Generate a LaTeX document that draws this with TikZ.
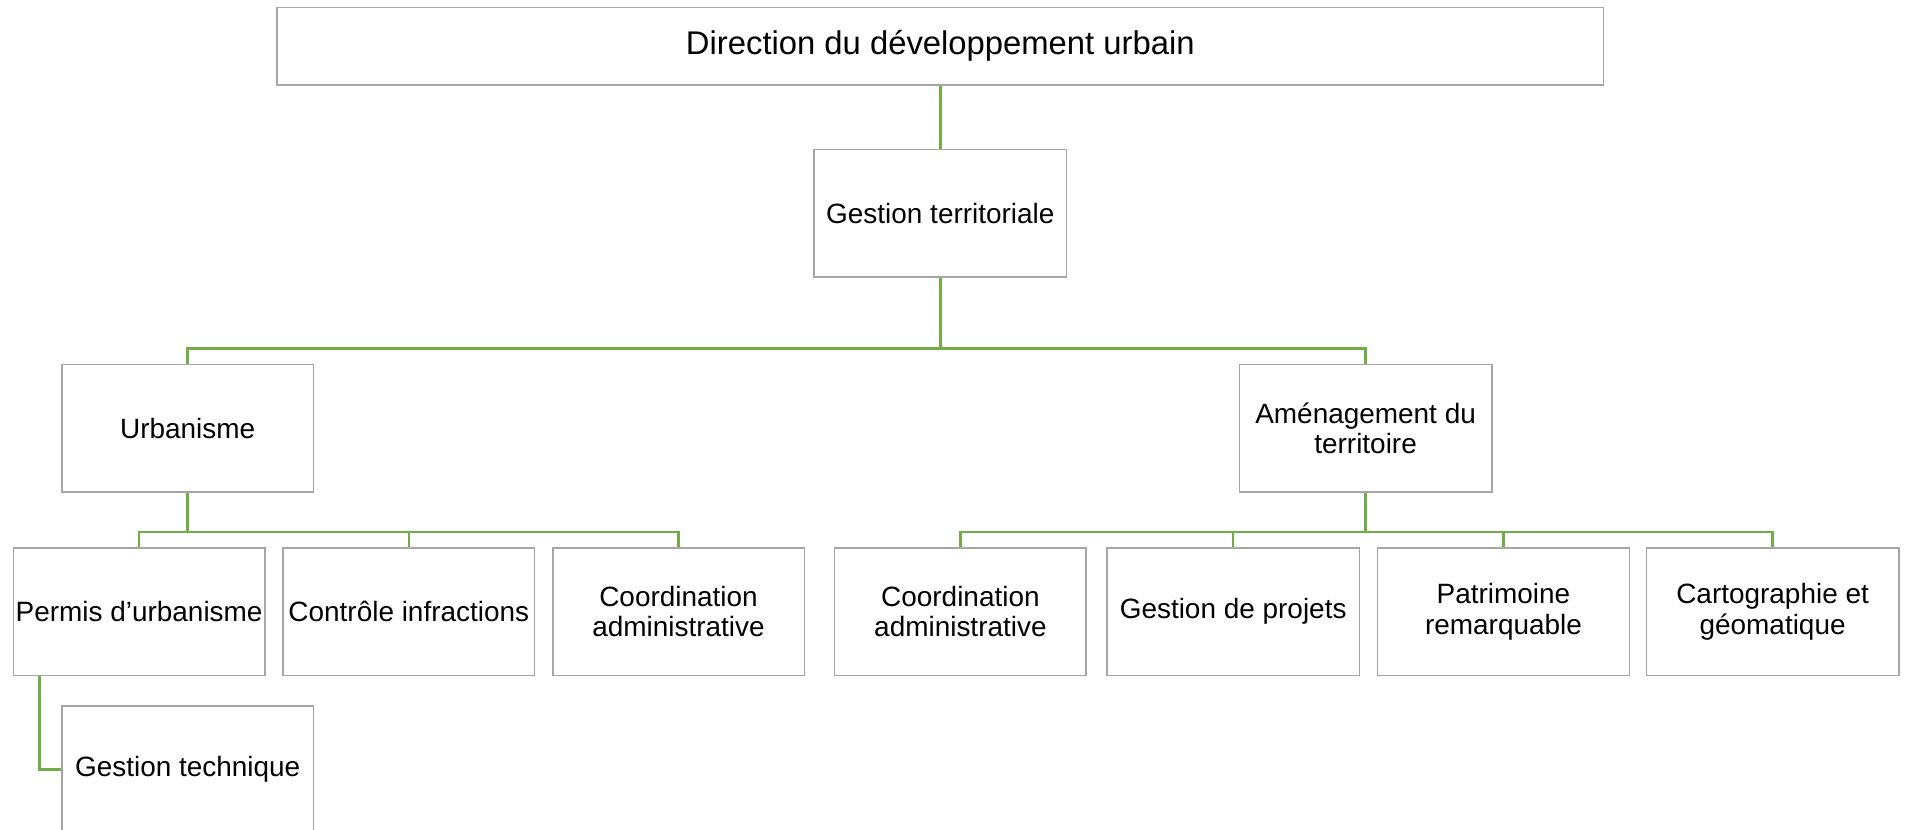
\documentclass[tikz,border=0pt]{standalone}
\usepackage{fontspec}
\setmainfont{Liberation Sans}
\usetikzlibrary{calc}
\definecolor{boxgray}{RGB}{166,166,166}
\definecolor{conngreen}{RGB}{112,173,71}
\begin{document}
\begin{tikzpicture}[x=1pt,y=-1pt,
  unitbox/.style={draw=boxgray,line width=1.2pt,fill=white,rectangle,inner sep=0pt,
    minimum width=207pt,minimum height=105pt,align=center,
    font=\fontsize{23}{25}\selectfont},
  conn/.style={draw=conngreen,line width=2pt}]
\clip (0,0) rectangle (1568,683);
\fill[white] (0,0) rectangle (1568,683);
% nodes
\node[unitbox,minimum width=1092pt,minimum height=64pt,font=\fontsize{27}{30}\selectfont] (dir) at (774,38) {Direction du développement urbain};
\node[unitbox,minimum width=208pt] (gt) at (774,175.5) {Gestion territoriale};
\node[unitbox] (urb) at (154.5,352.5) {Urbanisme};
\node[unitbox,minimum width=208pt] (amen) at (1124,352.5) {Aménagement du\\territoire};
\node[unitbox] (perm) at (114.5,503.5) {Permis d’urbanisme};
\node[unitbox] (ctrl) at (336.5,503.5) {Contrôle infractions};
\node[unitbox] (coord1) at (558.5,503.5) {Coordination\\administrative};
\node[unitbox] (coord2) at (790.5,503.5) {Coordination\\administrative};
\node[unitbox,minimum width=208pt] (proj) at (1015,503.5) {Gestion de projets};
\node[unitbox] (patr) at (1237.5,503.5) {Patrimoine\\remarquable};
\node[unitbox,minimum width=208pt] (carto) at (1459,503.5) {Cartographie et\\géomatique};
\node[unitbox] (gtech) at (154.5,633.5) {Gestion technique};
% connectors
\draw[conn] (dir.south) -- (gt.north);
\draw[conn] (gt.south) -- (gt.south |- 0,287) -| (urb.north);
\draw[conn] (gt.south |- 0,287) -| (amen.north);
\draw[conn] (urb.south) -- (urb.south |- 0,438) -| (perm.north);
\draw[conn] (urb.south |- 0,438) -| (ctrl.north);
\draw[conn] (urb.south |- 0,438) -| (coord1.north);
\draw[conn] (amen.south) -- (amen.south |- 0,438) -| (coord2.north);
\draw[conn] (amen.south |- 0,438) -| (proj.north);
\draw[conn] (amen.south |- 0,438) -| (patr.north);
\draw[conn] (amen.south |- 0,438) -| (carto.north);
\draw[conn] ([xshift=-82pt]perm.south) |- (gtech.west);
\end{tikzpicture}
\end{document}
